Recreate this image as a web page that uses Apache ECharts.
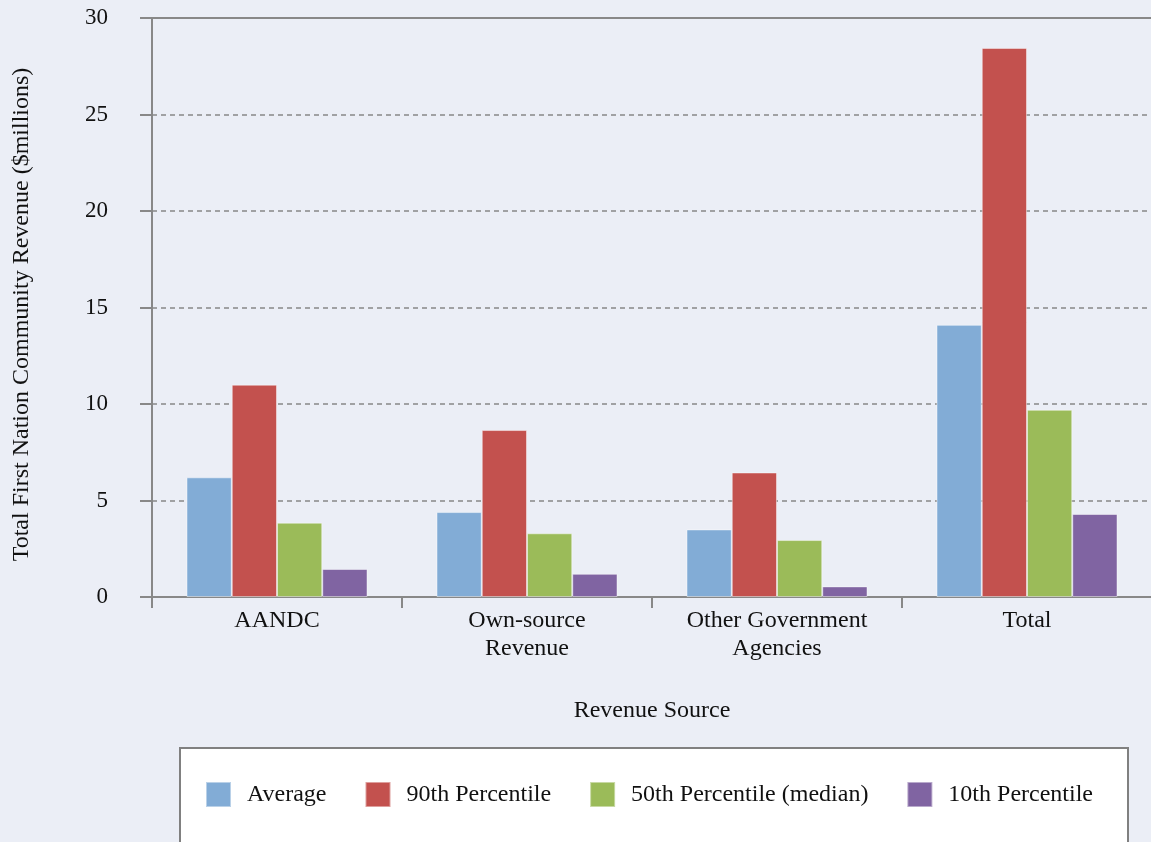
<!DOCTYPE html>
<html><head><meta charset="utf-8">
<script src="https://cdn.jsdelivr.net/npm/echarts@6/dist/echarts.min.js"></script>
<style>html,body{margin:0;padding:0;background:#ebeef6;}#c{width:1151px;height:842px;}</style>
</head><body><div id="c"></div>
<script>
const categories = ['AANDC', 'Own-source\nRevenue', 'Other Government\nAgencies', 'Total'];
const seriesNames = ['Average', '90th Percentile', '50th Percentile (median)', '10th Percentile'];
const average = [6.2, 4.4, 3.5, 14.1];
const p90 = [11.0, 8.65, 6.45, 28.45];
const p50 = [3.85, 3.3, 2.95, 9.7];
const p10 = [1.45, 1.2, 0.55, 4.3];
const colors = ['#82acd6', '#c3514e', '#9bbb59', '#8064a2'];
const F = 'Liberation Serif, DejaVu Serif, serif';
const chart = echarts.init(document.getElementById('c'));
const data = [average, p90, p50, p10];
chart.setOption({
  backgroundColor: '#ebeef6',
  animation: false,
  textStyle: { fontFamily: F },
  grid: { left: 152, right: -1, top: 18, bottom: 245, outerBoundsMode: 'none', containLabel: false },
  graphic: [{
    type: 'rect', shape: { x: 180, y: 748, width: 948, height: 130 },
    style: { fill: '#ffffff', stroke: '#808080', lineWidth: 2 }, z: 0
  }],
  legend: {
    left: 205, top: 781, padding: 0, itemWidth: 25, itemHeight: 25, itemGap: 38,
    icon: 'rect',
    textStyle: { fontFamily: F, fontSize: 24, color: '#111', padding: [0, 0, 0, 11] },
    data: seriesNames
  },
  xAxis: [{
    type: 'category', data: categories,
    name: 'Revenue Source', nameLocation: 'middle', nameGap: 102,
    nameTextStyle: { fontFamily: F, fontSize: 24, color: '#111' },
    axisLine: { show: true, lineStyle: { color: '#888', width: 2 } },
    axisTick: { show: true, length: 11, lineStyle: { color: '#888', width: 2 } },
    axisLabel: { fontFamily: F, fontSize: 24, color: '#111', margin: 10, lineHeight: 28 }
  }, {
    type: 'category', data: categories, position: 'top',
    axisLine: { show: true, lineStyle: { color: '#888', width: 2 } },
    axisTick: { show: false }, axisLabel: { show: false }
  }],
  yAxis: {
    type: 'value', min: 0, max: 30, interval: 5,
    name: 'Total First Nation Community Revenue ($millions)',
    nameLocation: 'middle', nameGap: 118,
    nameTextStyle: { fontFamily: F, fontSize: 24, color: '#111', padding: [0, 14, 0, 0] },
    axisLine: { show: true, lineStyle: { color: '#888', width: 2 } },
    axisTick: { show: true, length: 12, lineStyle: { color: '#888', width: 2 } },
    axisLabel: { fontFamily: F, fontSize: 23, color: '#111', margin: 44 },
    splitLine: { show: true, lineStyle: { color: '#888', type: [5, 4], width: 1.5 } }
  },
  series: seriesNames.map((n, i) => ({
    name: n, type: 'bar', data: data[i],
    barGap: '0%', barCategoryGap: '27.6%',
    itemStyle: { color: colors[i], borderColor: 'rgba(255,255,255,0.45)', borderWidth: 1 }
  }))
});
</script></body></html>
